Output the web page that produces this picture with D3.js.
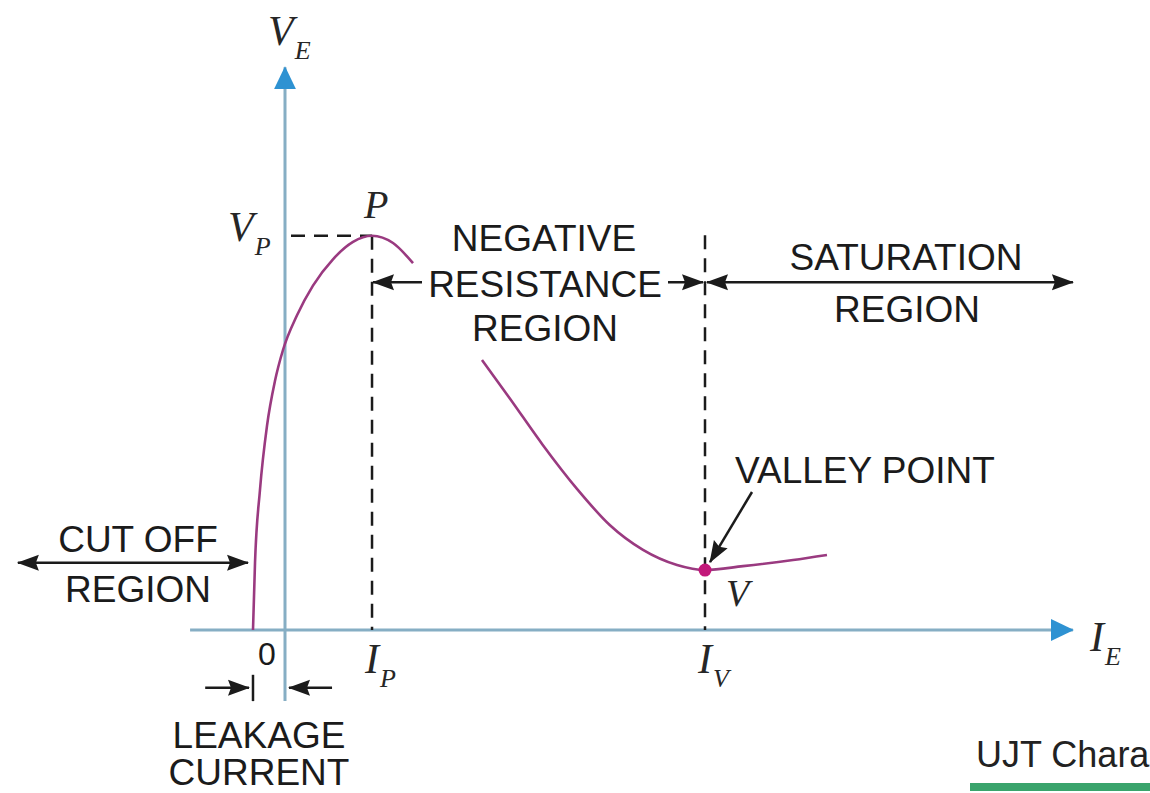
<!DOCTYPE html>
<html>
<head>
<meta charset="utf-8">
<script src="https://cdn.jsdelivr.net/npm/d3@7"></script>
<style>
body { margin: 0; background: #fff; }
text { font-family: "Liberation Sans", Arial, sans-serif; }
.lbl { font-size: 37px; fill: #1b1b1b; }
.sym { font-family: "Liberation Serif", "DejaVu Serif", serif; font-style: italic; fill: #262626; }
</style>
</head>
<body>
<script>
/*
*    UJT emitter characteristic
*/

// rising part (cut off -> peak point P), IE / VE in arbitrary units
var riseIE = [-0.381, -0.357, -0.298, -0.214, -0.119, -0.024, 0.143, 0.333, 0.571, 0.81, 1.036, 1.286, 1.524];
var riseVE = [0, 1.2, 2.5, 3.65, 4.45, 5.0, 5.62, 6.15, 6.62, 6.93, 7.04, 6.91, 6.55];

// negative resistance part down to valley point V and beyond
var fallIE = [2.345, 2.679, 3.071, 3.476, 3.869, 4.262, 4.667, 5.0, 5.452, 6.048, 6.452];
var fallVE = [4.82, 4.13, 3.3, 2.52, 1.87, 1.43, 1.16, 1.07, 1.14, 1.25, 1.34];

// special points
var peakI = 1.036, peakV = 7.04;
var valleyI = 5.0, valleyV = 1.07;
var leakI = -0.381;

// tick labels on the IE axis
var xTicks = [0, peakI, valleyI];
var xTickMain = ["0", "I", "I"];
var xTickSub = ["", "P", "V"];

var width = 1150;
var height = 793;

//Scales
var x = d3.scaleLinear().domain([0, 10]).range([285, 1125]);
var y = d3.scaleLinear().domain([0, 10]).range([630, 70]);

var svg = d3.select("body").append("svg")
    .attr("width", width)
    .attr("height", height);

//Markers
var defs = svg.append("defs");
defs.append("marker")
    .attr("id", "head")
    .attr("markerUnits", "userSpaceOnUse")
    .attr("viewBox", "0 -9 22 18")
    .attr("refX", 21).attr("refY", 0)
    .attr("markerWidth", 22).attr("markerHeight", 18)
    .attr("orient", "auto-start-reverse")
  .append("path")
    .attr("d", "M0,-8L22,0L0,8L3,0Z")
    .attr("fill", "#1b1b1b");
defs.append("marker")
    .attr("id", "axisHead")
    .attr("markerUnits", "userSpaceOnUse")
    .attr("viewBox", "0 -12 24 24")
    .attr("refX", 22).attr("refY", 0)
    .attr("markerWidth", 24).attr("markerHeight", 24)
    .attr("orient", "auto")
  .append("path")
    .attr("d", "M0,-11L23,0L0,11Z")
    .attr("fill", "#2e92d2");

//Axes
svg.append("line")
    .attr("x1", x(-1.13)).attr("x2", x(9.38))
    .attr("y1", y(0)).attr("y2", y(0))
    .attr("stroke", "#86aec4").attr("stroke-width", 3)
    .attr("marker-end", "url(#axisHead)");
svg.append("line")
    .attr("x1", x(0)).attr("x2", x(0))
    .attr("y1", y(-1.27)).attr("y2", y(10.05))
    .attr("stroke", "#86aec4").attr("stroke-width", 3)
    .attr("marker-end", "url(#axisHead)");

//Dashed guides
var dash = "14,9";
svg.append("line")
    .attr("x1", x(0) + 6).attr("x2", x(peakI))
    .attr("y1", y(peakV)).attr("y2", y(peakV))
    .attr("stroke", "#1b1b1b").attr("stroke-width", 2.5).attr("stroke-dasharray", dash);
svg.append("line")
    .attr("x1", x(peakI)).attr("x2", x(peakI))
    .attr("y1", y(peakV)).attr("y2", y(0))
    .attr("stroke", "#1b1b1b").attr("stroke-width", 2.5).attr("stroke-dasharray", dash);
svg.append("line")
    .attr("x1", x(valleyI)).attr("x2", x(valleyI))
    .attr("y1", y(7.05)).attr("y2", y(0))
    .attr("stroke", "#1b1b1b").attr("stroke-width", 2.5).attr("stroke-dasharray", dash);

//Curves
var line = d3.line()
    .x(d => x(d[0]))
    .y(d => y(d[1]))
    .curve(d3.curveMonotoneX);

svg.append("path")
    .datum(riseIE.map((d, i) => [d, riseVE[i]]))
    .attr("d", line)
    .attr("fill", "none")
    .attr("stroke", "#9a3a80").attr("stroke-width", 2.6);
svg.append("path")
    .datum(fallIE.map((d, i) => [d, fallVE[i]]))
    .attr("d", line)
    .attr("fill", "none")
    .attr("stroke", "#9a3a80").attr("stroke-width", 2.6);

svg.append("circle")
    .attr("cx", x(valleyI)).attr("cy", y(valleyV))
    .attr("r", 6.5)
    .attr("fill", "#c2187a");

//Region arrows
function arrow(x1, y1, x2, y2, start, end) {
    var l = svg.append("line")
        .attr("x1", x1).attr("y1", y1)
        .attr("x2", x2).attr("y2", y2)
        .attr("stroke", "#1b1b1b").attr("stroke-width", 2.5);
    if (start) l.attr("marker-start", "url(#head)");
    if (end) l.attr("marker-end", "url(#head)");
}

var regionV = 6.21;
arrow(x(peakI) + 1, y(regionV), x(peakI) + 52, y(regionV), true, false);
arrow(x(valleyI) - 40, y(regionV), x(valleyI) - 2, y(regionV), false, true);
arrow(x(valleyI) + 2, y(regionV), x(9.38), y(regionV), true, true);

arrow(x(-3.18), y(1.2), x(-0.44), y(1.2), true, true);

// leakage current
arrow(x(-0.95), y(-1.03), x(leakI) - 4, y(-1.03), false, true);
arrow(x(0.56), y(-1.03), x(0) + 4, y(-1.03), false, true);
svg.append("line")
    .attr("x1", x(leakI)).attr("x2", x(leakI))
    .attr("y1", y(-0.8)).attr("y2", y(-1.27))
    .attr("stroke", "#1b1b1b").attr("stroke-width", 2.5);

// valley pointer
arrow(752, 492, x(valleyI) + 5, y(valleyV) - 8, false, true);

//Text labels
function label(tx, ty, lines, gap) {
    var t = svg.append("text")
        .attr("class", "lbl")
        .attr("text-anchor", "middle");
    lines.forEach((s, i) => {
        t.append("tspan").attr("x", tx).attr("y", ty + i * gap).text(s);
    });
}

label(544, 251, ["NEGATIVE"], 0);
svg.append("rect")
    .attr("x", 422).attr("y", 262).attr("width", 246).attr("height", 38)
    .attr("fill", "#fff");
label(545, 297, ["RESISTANCE", "REGION"], 44);
label(906, 270, ["SATURATION"], 0);
label(907, 322, ["REGION"], 0);
label(138, 552, ["CUT OFF"], 0);
label(138, 602, ["REGION"], 0);
label(259, 748, ["LEAKAGE", "CURRENT"], 37);
label(865, 483, ["VALLEY POINT"], 0);

//Symbols
function sym(tx, ty, main, sub, size) {
    var t = svg.append("text")
        .attr("class", "sym")
        .attr("x", tx).attr("y", ty)
        .style("font-size", size + "px");
    t.append("tspan").text(main);
    if (sub) {
        t.append("tspan")
            .attr("dx", 1).attr("dy", size * 0.34)
            .style("font-size", (size * 0.62) + "px")
            .text(sub);
    }
}

sym(268, 45, "V", "E", 42);
sym(228, 241, "V", "P", 42);
sym(364, 218, "P", "", 40);
sym(726, 606, "V", "", 38);
sym(1090, 651, "I", "E", 42);

xTicks.forEach((v, i) => {
    if (i === 0) {
        svg.append("text")
            .attr("class", "lbl")
            .attr("text-anchor", "middle")
            .attr("x", x(v) - 18).attr("y", 665)
            .style("font-size", "32px")
            .text(xTickMain[i]);
    } else {
        sym(x(v) - 7, 673, xTickMain[i], xTickSub[i], 42);
    }
});

//Footer link fragment
svg.append("text")
    .attr("x", 976).attr("y", 767)
    .style("font-size", "36px")
    .attr("fill", "#222")
    .text("UJT Characteristics");
svg.append("rect")
    .attr("x", 970).attr("y", 783).attr("width", 180).attr("height", 8)
    .attr("fill", "#3aa46c");
</script>
</body>
</html>
